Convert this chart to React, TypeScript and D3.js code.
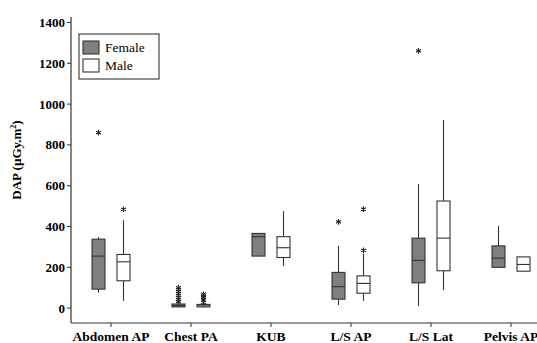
import { scaleBand, scaleLinear, symbol, symbolAsterisk } from "d3";

const WIDTH = 537;
const HEIGHT = 343;

const categories = ["Abdomen AP", "Chest PA", "KUB", "L/S AP", "L/S Lat", "Pelvis AP"];
const groups = ["Female", "Male"];
const yTicks = [0, 200, 400, 600, 800, 1000, 1200, 1400];

// [whiskerLow, q1, median, q3, whiskerHigh]
const femaleStats = [
  [75, 93, 255, 338, 348],
  [3, 6, 12, 20, 25],
  [255, 255, 350, 366, 366],
  [15, 44, 105, 175, 305],
  [10, 124, 234, 343, 608],
  [200, 200, 245, 305, 403],
];
const maleStats = [
  [36, 134, 227, 263, 431],
  [3, 6, 11, 18, 22],
  [206, 248, 296, 350, 475],
  [36, 73, 121, 158, 268],
  [88, 183, 343, 525, 922],
  [181, 181, 214, 251, 251],
];
const femaleOutliers = [
  [860],
  [32, 42, 52, 62, 72, 82, 92, 100],
  [],
  [423],
  [1261],
  [],
];
const maleOutliers = [
  [484],
  [28, 40, 50, 60, 68],
  [],
  [283, 485],
  [],
  [],
];

const LEFT = 71;
const AXIS_Y = 323;

const x = scaleBand().domain(categories).range([LEFT, LEFT + 480]);
const y = scaleLinear().domain([-73, 1427]).range([AXIS_Y, 17]);
const offset = scaleBand().domain(groups).range([-24, 24]).paddingInner(0.08);
const star = symbol(symbolAsterisk, 22)();

const font = "'Liberation Serif', 'Times New Roman', serif";
const fills = { Female: "#7f7f7f", Male: "#ffffff" };

function Box({ cx, stats, outliers, fill }) {
  const [lo, q1, med, q3, hi] = stats;
  const w = 13;
  return (
    <g>
      <line x1={cx} x2={cx} y1={y(hi)} y2={y(q3)} stroke="#333" strokeWidth={1.1} />
      <line x1={cx} x2={cx} y1={y(q1)} y2={y(lo)} stroke="#333" strokeWidth={1.1} />
      <rect x={cx - w / 2} y={y(q3)} width={w} height={Math.max(1.5, y(q1) - y(q3))} fill={fill} stroke="#333" strokeWidth={1.1} />
      <line x1={cx - w / 2} x2={cx + w / 2} y1={y(med)} y2={y(med)} stroke="#333" strokeWidth={1.1} />
      {outliers.map((v, i) => (
        <path key={i} d={star} transform={`translate(${cx},${y(v)})`} fill="none" stroke="#222" strokeWidth={1.1} />
      ))}
    </g>
  );
}

export default function App() {
  return (
    <svg width={WIDTH} height={HEIGHT} style={{ position: "absolute", left: 0, top: 0, background: "#fff" }}>
      {categories.map((c, i) => {
        const center = x(c) + x.bandwidth() / 2;
        return (
          <g key={c}>
            <Box cx={center + offset("Female") + offset.bandwidth() / 2} stats={femaleStats[i]} outliers={femaleOutliers[i]} fill={fills.Female} />
            <Box cx={center + offset("Male") + offset.bandwidth() / 2} stats={maleStats[i]} outliers={maleOutliers[i]} fill={fills.Male} />
          </g>
        );
      })}

      <line x1={LEFT} x2={LEFT} y1={17} y2={AXIS_Y} stroke="#333" strokeWidth={1.2} />
      <line x1={LEFT} x2={WIDTH} y1={AXIS_Y} y2={AXIS_Y} stroke="#333" strokeWidth={1.2} />
      {yTicks.map((t) => (
        <g key={t}>
          <line x1={LEFT - 4} x2={LEFT} y1={y(t)} y2={y(t)} stroke="#333" />
          <text x={LEFT - 6} y={y(t)} dy="0.35em" textAnchor="end" fontFamily={font} fontWeight="bold" fontSize={13}>
            {t}
          </text>
        </g>
      ))}
      {categories.map((c) => {
        const cx = x(c) + x.bandwidth() / 2;
        return (
          <g key={c}>
            <line x1={cx} x2={cx} y1={AXIS_Y} y2={AXIS_Y + 4} stroke="#333" />
            <text x={cx} y={AXIS_Y + 18} textAnchor="middle" fontFamily={font} fontWeight="bold" fontSize={13.5}>
              {c}
            </text>
          </g>
        );
      })}
      <text transform="translate(21,160) rotate(-90)" textAnchor="middle" fontFamily={font} fontWeight="bold" fontSize={13}>
        DAP (µGy.m<tspan dy="-5" fontSize={8}>2</tspan><tspan dy="5">)</tspan>
      </text>

      <rect x={79} y={34} width={80} height={45} fill="#fff" stroke="#333" strokeWidth={1.1} />
      {groups.map((g, i) => (
        <g key={g} transform={`translate(83,${41 + i * 18})`}>
          <rect width={16} height={13} fill={fills[g]} stroke="#333" strokeWidth={1.1} />
          <text x={22} y={10.5} fontFamily={font} fontSize={13.5}>
            {g}
          </text>
        </g>
      ))}
    </svg>
  );
}
